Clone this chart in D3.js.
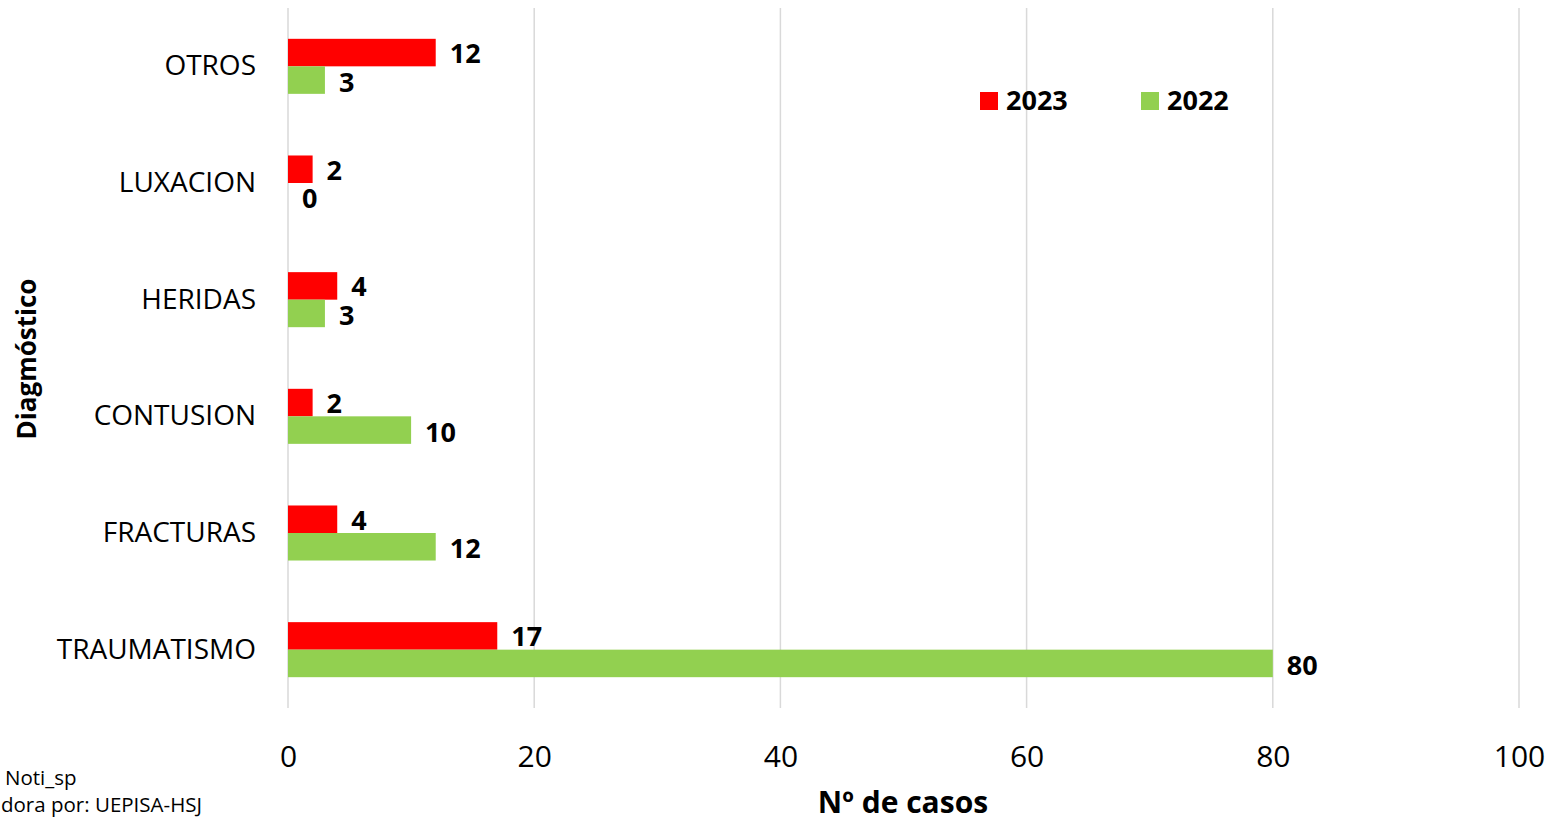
<!DOCTYPE html>
<html>
<head>
<meta charset="utf-8">
<script src="https://cdn.jsdelivr.net/npm/d3@7"></script>
<style>
  body { margin: 0; background: #fff; }
  text { font-family: "Open Sans", "Noto Sans", sans-serif; }
</style>
</head>
<body>
<script>
var categories = ["OTROS", "LUXACION", "HERIDAS", "CONTUSION", "FRACTURAS", "TRAUMATISMO"];
var series_names = ["2023", "2022"];
var values_2023 = [12, 2, 4, 2, 4, 17];
var values_2022 = [3, 0, 3, 10, 12, 80];
var x_ticks = [0, 20, 40, 60, 80, 100];
var colors = ["#ff0000", "#92d050"];

var width = 1564, height = 825;
var svg = d3.select("body").append("svg")
            .attr("width", width)
            .attr("height", height);

var x = d3.scaleLinear().domain([0, 100]).range([288, 1519]);
var y = d3.scaleBand().domain(categories).range([8, 708]);
var inner = d3.scaleBand().domain(series_names).range([0, y.bandwidth()]).paddingInner(0).paddingOuter(1.12);

// gridlines
svg.append("g").selectAll("line")
   .data(x_ticks)
   .enter().append("line")
   .attr("x1", function(d) { return x(d); })
   .attr("x2", function(d) { return x(d); })
   .attr("y1", 8)
   .attr("y2", 708)
   .style("stroke", "#d9d9d9")
   .style("stroke-width", 1.5);

// x axis labels
var xAxis = d3.axisBottom(x).tickValues(x_ticks).tickSize(0).tickPadding(0);
var gx = svg.append("g").attr("transform", "translate(0,743)").call(xAxis);
gx.select(".domain").remove();
gx.selectAll("text")
  .style("font-size", "30px")
  .style("fill", "#000")
  .attr("dy", "0.8em")
  .style("font-family", "'Open Sans', sans-serif");

// y axis labels
var yAxis = d3.axisLeft(y).tickSize(0).tickPadding(0);
var gy = svg.append("g").attr("transform", "translate(256,0)").call(yAxis);
gy.select(".domain").remove();
gy.selectAll("text")
  .style("font-size", "28px")
  .style("fill", "#000")
  .style("font-family", "'Open Sans', sans-serif");

var rows = categories.map(function(c, i) {
  return [{cat: c, s: "2023", v: values_2023[i], col: colors[0]},
          {cat: c, s: "2022", v: values_2022[i], col: colors[1]}];
});
var flat = [].concat.apply([], rows);

svg.append("g").selectAll("rect")
   .data(flat)
   .enter().append("rect")
   .attr("x", x(0))
   .attr("y", function(d) { return y(d.cat) + inner(d.s); })
   .attr("width", function(d) { return x(d.v) - x(0); })
   .attr("height", inner.bandwidth())
   .style("fill", function(d) { return d.col; });

svg.append("g").selectAll("text")
   .data(flat)
   .enter().append("text")
   .attr("x", function(d) { return x(d.v) + 14; })
   .attr("y", function(d) { return y(d.cat) + inner(d.s) + inner.bandwidth() / 2 + (d.s === "2023" ? 1 : 2); })
   .attr("dy", "0.35em")
   .style("font-size", "27px")
   .style("font-weight", "bold")
   .text(function(d) { return d.v; });

// legend
var legend = svg.append("g").selectAll("g")
   .data(series_names)
   .enter().append("g")
   .attr("transform", function(d, i) { return "translate(" + (980 + i * 161) + ",92)"; });
legend.append("rect")
   .attr("width", 18).attr("height", 18)
   .style("fill", function(d, i) { return colors[i]; });
legend.append("text")
   .attr("x", 26).attr("y", 9).attr("dy", "0.35em")
   .style("font-size", "27px")
   .style("font-weight", "bold")
   .text(function(d) { return d; });

// axis titles
svg.append("text")
   .attr("x", 903).attr("y", 813)
   .attr("text-anchor", "middle")
   .style("font-size", "30px")
   .style("font-weight", "bold")
   .text("Nº de casos");

svg.append("text")
   .attr("transform", "translate(36,359) rotate(-90)")
   .attr("text-anchor", "middle")
   .style("font-size", "26px")
   .style("font-weight", "bold")
   .text("Diagmóstico");

// source notes (cut at the left edge in the original)
svg.append("text")
   .attr("x", 5).attr("y", 785)
   .style("font-size", "20.5px")
   .text("Noti_sp");
svg.append("text")
   .attr("x", 1).attr("y", 812)
   .style("font-size", "20.5px")
   .text("dora por: UEPISA-HSJ");
</script>
</body>
</html>
